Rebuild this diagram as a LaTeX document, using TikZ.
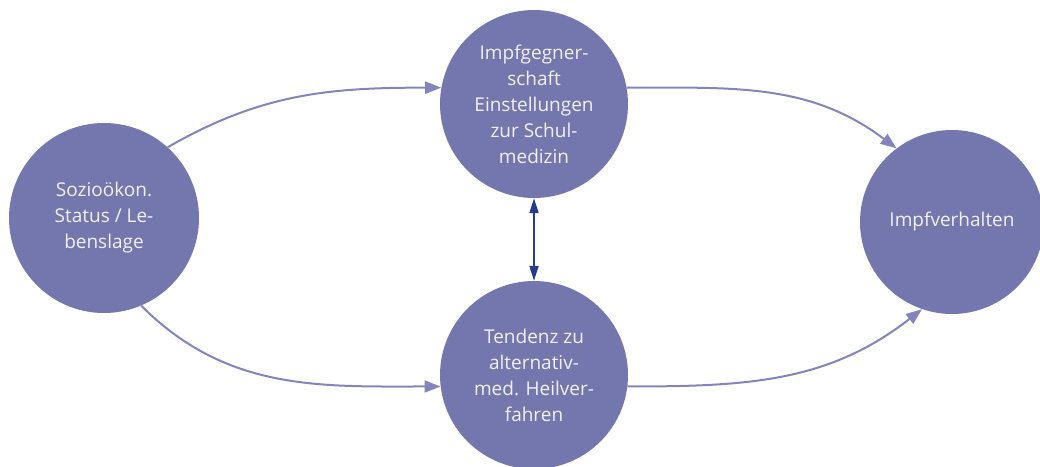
\documentclass[tikz,border=0pt]{standalone}
\usepackage{fontspec}
\setmainfont{Open Sans}
\usetikzlibrary{arrows.meta}
\definecolor{circfill}{HTML}{7476AE}
\definecolor{arrlight}{HTML}{8384BC}
\definecolor{arrdark}{HTML}{233C8B}
\definecolor{txt}{HTML}{F2F2F8}
\tikzset{
  bubble/.style={circle, fill=circfill, draw=none, inner sep=0pt,
    minimum size=#1, align=center, text=txt,
    font=\fontsize{19}{26}\selectfont},
  flow/.style={draw=arrlight, line width=2pt,
    -{Triangle[length=16pt,width=12pt]}},
  mutual/.style={draw=arrdark, line width=2pt,
    {Triangle[length=15pt,width=9pt]}-{Triangle[length=15pt,width=9pt]}}
}
\begin{document}
\begin{tikzpicture}[x=1pt,y=1pt]
\useasboundingbox (0,0) rectangle (1040,-466);
\node[bubble=190pt] (L) at (104,-218) {Sozioökon.\\Status / Le-\\benslage};
\node[bubble=188pt] (T) at (534,-104) {Impfgegner-\\schaft\\Einstellungen\\zur Schul-\\medizin};
\node[bubble=188pt] (B) at (534,-375) {Tendenz zu\\alternativ-\\med. Heilver-\\fahren};
\node[bubble=184pt] (R) at (952,-222) {Impfverhalten};
\draw[flow] (L.48) to[out=30,in=180] (T.170);
\draw[flow] (T.10) to[out=0,in=143] (R.127);
\draw[flow] (L.-67) to[out=-45,in=180] (B.187);
\draw[flow] (B.-7) to[out=0,in=218] (R.251);
\draw[mutual] (T.south) -- (B.north);
\end{tikzpicture}
\end{document}
